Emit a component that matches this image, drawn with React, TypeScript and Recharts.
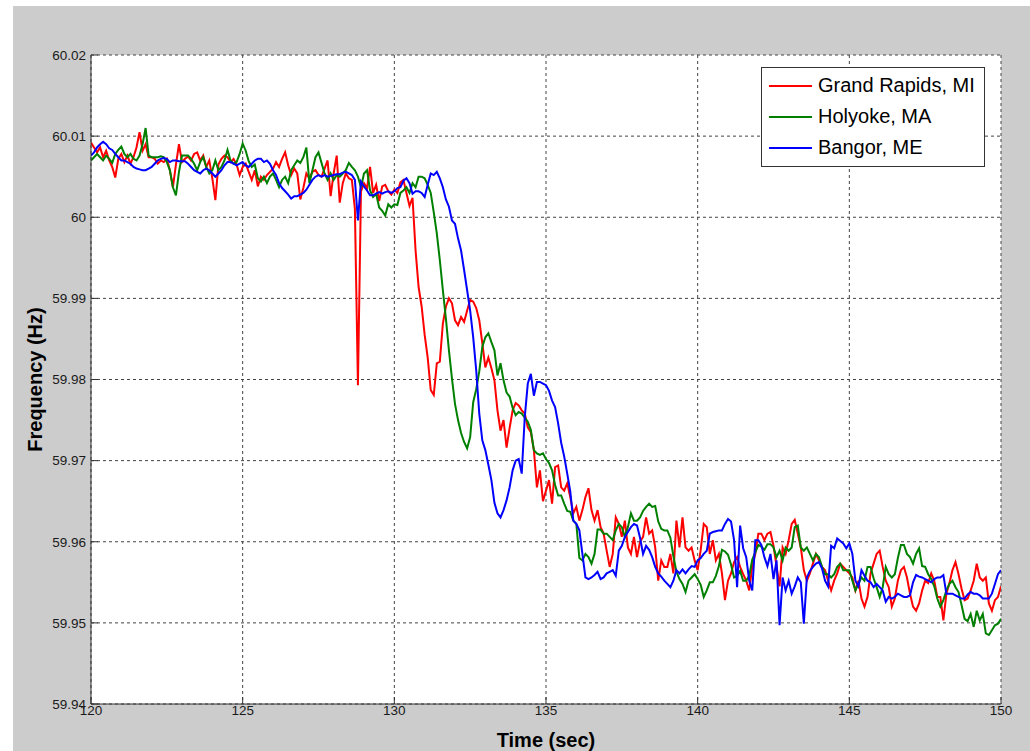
import React from 'react';
import { LineChart, Line, XAxis, YAxis, CartesianGrid, Legend } from 'recharts';

// Sampling grid of the record (seconds)
const START_TIME = 120;
const SAMPLE_STEP = 0.1;

// Frequency readings (Hz), one per 0.1 s from 120.0 s to 150.0 s
const grandRapids = [
  60.0092, 60.0086, 60.0080, 60.0086, 60.0074, 60.0082, 60.0070, 60.0062, 60.0049, 60.0072,
  60.0078, 60.0068, 60.0076, 60.0066, 60.0074, 60.0086, 60.0105, 60.0082, 60.0090, 60.0074,
  60.0074, 60.0072, 60.0066, 60.0070, 60.0068, 60.0072, 60.0058, 60.0037, 60.0065, 60.0090,
  60.0068, 60.0072, 60.0075, 60.0070, 60.0078, 60.0080, 60.0070, 60.0076, 60.0062, 60.0070,
  60.0048, 60.0021, 60.0065, 60.0072, 60.0076, 60.0074, 60.0068, 60.0072, 60.0065, 60.0052,
  60.0062, 60.0066, 60.0056, 60.0046, 60.0058, 60.0038, 60.0050, 60.0046, 60.0052, 60.0056,
  60.0060, 60.0068, 60.0062, 60.0072, 60.0080, 60.0064, 60.0052, 60.0060, 60.0054, 60.0022,
  60.0036, 60.0054, 60.0048, 60.0056, 60.0058, 60.0052, 60.0050, 60.0060, 60.0070, 60.0026,
  60.0054, 60.0076, 60.0018, 60.0042, 60.0054, 60.0048, 60.0046, 60.0010, 59.9793, 60.0032,
  60.0042, 60.0036, 60.0062, 60.0030, 60.0040, 60.0020, 60.0038, 60.0040, 60.0032, 60.0028,
  60.0034, 60.0030, 60.0043, 60.0046, 60.0030, 60.0014, 60.0024, 59.9959, 59.9914, 59.9890,
  59.9855, 59.9827, 59.9787, 59.9781, 59.9820, 59.9822, 59.9869, 59.9890, 59.9900, 59.9894,
  59.9873, 59.9867, 59.9877, 59.9871, 59.9885, 59.9898, 59.9896, 59.9888, 59.9873, 59.9845,
  59.9815, 59.9827, 59.9814, 59.9799, 59.9762, 59.9737, 59.9750, 59.9716, 59.9740, 59.9762,
  59.9771, 59.9768, 59.9762, 59.9758, 59.9741, 59.9735, 59.9713, 59.9667, 59.9688, 59.9650,
  59.9663, 59.9676, 59.9647, 59.9692, 59.9694, 59.9667, 59.9663, 59.9672, 59.9655, 59.9635,
  59.9643, 59.9626, 59.9639, 59.9655, 59.9666, 59.9639, 59.9626, 59.9639, 59.9618, 59.9610,
  59.9589, 59.9569, 59.9585, 59.9630, 59.9622, 59.9606, 59.9626, 59.9593, 59.9585, 59.9606,
  59.9581, 59.9600, 59.9606, 59.9630, 59.9610, 59.9614, 59.9593, 59.9552, 59.9577, 59.9569,
  59.9569, 59.9585, 59.9561, 59.9626, 59.9593, 59.9630, 59.9593, 59.9589, 59.9593, 59.9577,
  59.9565, 59.9590, 59.9622, 59.9618, 59.9585, 59.9602, 59.9577, 59.9585, 59.9561, 59.9528,
  59.9552, 59.9561, 59.9575, 59.9581, 59.9569, 59.9560, 59.9552, 59.9540, 59.9570, 59.9585,
  59.9610, 59.9610, 59.9602, 59.9610, 59.9612, 59.9595, 59.9570, 59.9545, 59.9593, 59.9585,
  59.9602, 59.9622, 59.9627, 59.9610, 59.9593, 59.9565, 59.9552, 59.9561, 59.9573, 59.9585,
  59.9577, 59.9569, 59.9565, 59.9552, 59.9540, 59.9552, 59.9561, 59.9573, 59.9569, 59.9565,
  59.9561, 59.9556, 59.9540, 59.9552, 59.9530, 59.9520, 59.9532, 59.9561, 59.9573, 59.9585,
  59.9589, 59.9569, 59.9552, 59.9544, 59.9520, 59.9530, 59.9552, 59.9565, 59.9569, 59.9556,
  59.9536, 59.9520, 59.9515, 59.9524, 59.9540, 59.9552, 59.9549, 59.9561, 59.9552, 59.9532,
  59.9532, 59.9503, 59.9536, 59.9549, 59.9565, 59.9575, 59.9560, 59.9542, 59.9528, 59.9530,
  59.9540, 59.9552, 59.9573, 59.9556, 59.9552, 59.9556, 59.9524, 59.9515, 59.9528, 59.9532,
  59.9545,
];

const holyoke = [
  60.0070, 60.0074, 60.0078, 60.0074, 60.0070, 60.0076, 60.0072, 60.0067, 60.0078, 60.0083,
  60.0087, 60.0078, 60.0074, 60.0078, 60.0072, 60.0070, 60.0076, 60.0090, 60.0110, 60.0076,
  60.0074, 60.0074, 60.0074, 60.0075, 60.0074, 60.0068, 60.0058, 60.0037, 60.0027, 60.0056,
  60.0076, 60.0076, 60.0076, 60.0072, 60.0066, 60.0058, 60.0068, 60.0074, 60.0062, 60.0054,
  60.0058, 60.0070, 60.0058, 60.0062, 60.0070, 60.0083, 60.0070, 60.0066, 60.0068, 60.0078,
  60.0091, 60.0082, 60.0069, 60.0062, 60.0065, 60.0048, 60.0044, 60.0050, 60.0042, 60.0050,
  60.0054, 60.0046, 60.0037, 60.0046, 60.0050, 60.0042, 60.0058, 60.0064, 60.0070, 60.0067,
  60.0074, 60.0086, 60.0042, 60.0058, 60.0074, 60.0080, 60.0067, 60.0054, 60.0046, 60.0054,
  60.0046, 60.0052, 60.0050, 60.0054, 60.0058, 60.0067, 60.0062, 60.0058, 60.0050, 60.0037,
  60.0054, 60.0058, 60.0033, 60.0025, 60.0029, 60.0012, 60.0008, 60.0002, 60.0016, 60.0012,
  60.0016, 60.0015, 60.0030, 60.0033, 60.0037, 60.0030, 60.0042, 60.0037, 60.0050, 60.0050,
  60.0048, 60.0040, 60.0030, 60.0006, 59.9980, 59.9947, 59.9910, 59.9875, 59.9836, 59.9801,
  59.9770, 59.9750, 59.9734, 59.9723, 59.9715, 59.9729, 59.9772, 59.9788, 59.9810, 59.9840,
  59.9852, 59.9857, 59.9846, 59.9836, 59.9805, 59.9820, 59.9799, 59.9784, 59.9779, 59.9765,
  59.9756, 59.9760, 59.9758, 59.9753, 59.9748, 59.9738, 59.9713, 59.9709, 59.9707, 59.9709,
  59.9702, 59.9697, 59.9688, 59.9670, 59.9657, 59.9657, 59.9647, 59.9638, 59.9637, 59.9626,
  59.9622, 59.9580, 59.9577, 59.9585, 59.9581, 59.9573, 59.9585, 59.9615, 59.9615, 59.9610,
  59.9610, 59.9606, 59.9602, 59.9614, 59.9622, 59.9618, 59.9606, 59.9618, 59.9635, 59.9626,
  59.9626, 59.9630, 59.9638, 59.9643, 59.9647, 59.9643, 59.9644, 59.9625, 59.9616, 59.9614,
  59.9614, 59.9605, 59.9582, 59.9563, 59.9554, 59.9548, 59.9538, 59.9552, 59.9556, 59.9560,
  59.9554, 59.9547, 59.9532, 59.9540, 59.9550, 59.9550, 59.9558, 59.9570, 59.9590, 59.9588,
  59.9584, 59.9572, 59.9556, 59.9558, 59.9564, 59.9552, 59.9552, 59.9558, 59.9578, 59.9587,
  59.9596, 59.9594, 59.9590, 59.9597, 59.9597, 59.9593, 59.9581, 59.9589, 59.9577, 59.9593,
  59.9589, 59.9593, 59.9618, 59.9620, 59.9593, 59.9589, 59.9593, 59.9585, 59.9577, 59.9585,
  59.9581, 59.9569, 59.9560, 59.9560, 59.9556, 59.9560, 59.9569, 59.9573, 59.9565, 59.9565,
  59.9565, 59.9552, 59.9540, 59.9548, 59.9556, 59.9552, 59.9569, 59.9569, 59.9555, 59.9544,
  59.9532, 59.9544, 59.9569, 59.9560, 59.9556, 59.9560, 59.9580, 59.9596, 59.9596, 59.9585,
  59.9581, 59.9573, 59.9585, 59.9592, 59.9570, 59.9569, 59.9560, 59.9554, 59.9545, 59.9530,
  59.9520, 59.9528, 59.9540, 59.9548, 59.9552, 59.9544, 59.9538, 59.9522, 59.9505, 59.9502,
  59.9511, 59.9495, 59.9515, 59.9503, 59.9511, 59.9487, 59.9485, 59.9491, 59.9497, 59.9499,
  59.9505,
];

const bangor = [
  60.0076, 60.0080, 60.0086, 60.0090, 60.0093, 60.0090, 60.0085, 60.0083, 60.0078, 60.0074,
  60.0070, 60.0070, 60.0068, 60.0066, 60.0062, 60.0060, 60.0059, 60.0058, 60.0058, 60.0060,
  60.0062, 60.0066, 60.0070, 60.0072, 60.0073, 60.0072, 60.0068, 60.0070, 60.0070, 60.0069,
  60.0069, 60.0069, 60.0066, 60.0062, 60.0058, 60.0056, 60.0054, 60.0058, 60.0060, 60.0058,
  60.0054, 60.0050, 60.0054, 60.0058, 60.0064, 60.0068, 60.0068, 60.0066, 60.0064, 60.0066,
  60.0068, 60.0064, 60.0062, 60.0066, 60.0070, 60.0072, 60.0072, 60.0068, 60.0070, 60.0066,
  60.0058, 60.0052, 60.0042, 60.0036, 60.0032, 60.0028, 60.0023, 60.0026, 60.0026, 60.0028,
  60.0030, 60.0034, 60.0040, 60.0046, 60.0050, 60.0052, 60.0050, 60.0052, 60.0050, 60.0051,
  60.0052, 60.0053, 60.0053, 60.0055, 60.0056, 60.0054, 60.0052, 60.0046, 59.9996, 60.0044,
  60.0038, 60.0033, 60.0027, 60.0027, 60.0029, 60.0031, 60.0029, 60.0031, 60.0032, 60.0030,
  60.0032, 60.0036, 60.0037, 60.0045, 60.0048, 60.0042, 60.0029, 60.0032, 60.0032, 60.0030,
  60.0025, 60.0040, 60.0054, 60.0052, 60.0056, 60.0048, 60.0037, 60.0022, 60.0013, 59.9996,
  59.9992, 59.9974, 59.9959, 59.9935, 59.9910, 59.9885, 59.9852, 59.9811, 59.9758, 59.9725,
  59.9713, 59.9695, 59.9676, 59.9648, 59.9635, 59.9630, 59.9639, 59.9651, 59.9667, 59.9688,
  59.9700, 59.9702, 59.9684, 59.9754, 59.9795, 59.9807, 59.9780, 59.9797, 59.9797, 59.9795,
  59.9793, 59.9786, 59.9774, 59.9766, 59.9746, 59.9722, 59.9705, 59.9684, 59.9662, 59.9626,
  59.9622, 59.9614, 59.9585, 59.9556, 59.9554, 59.9556, 59.9559, 59.9563, 59.9554, 59.9556,
  59.9561, 59.9563, 59.9565, 59.9558, 59.9589, 59.9595, 59.9606, 59.9612, 59.9618, 59.9622,
  59.9620, 59.9605, 59.9585, 59.9595, 59.9590, 59.9581, 59.9569, 59.9561, 59.9557, 59.9552,
  59.9548, 59.9544, 59.9552, 59.9565, 59.9561, 59.9566, 59.9561, 59.9566, 59.9570, 59.9569,
  59.9577, 59.9580, 59.9585, 59.9589, 59.9610, 59.9612, 59.9613, 59.9614, 59.9614, 59.9622,
  59.9628, 59.9625, 59.9602, 59.9544, 59.9620, 59.9592, 59.9581, 59.9552, 59.9540, 59.9602,
  59.9602, 59.9596, 59.9581, 59.9570, 59.9585, 59.9554, 59.9577, 59.9497, 59.9556, 59.9540,
  59.9552, 59.9536, 59.9545, 59.9556, 59.9550, 59.9499, 59.9556, 59.9564, 59.9569, 59.9573,
  59.9575, 59.9567, 59.9552, 59.9545, 59.9595, 59.9592, 59.9604, 59.9601, 59.9598, 59.9592,
  59.9598, 59.9585, 59.9552, 59.9545, 59.9565, 59.9558, 59.9552, 59.9550, 59.9544, 59.9548,
  59.9544, 59.9540, 59.9526, 59.9532, 59.9530, 59.9532, 59.9536, 59.9534, 59.9532, 59.9532,
  59.9534, 59.9550, 59.9559, 59.9557, 59.9556, 59.9554, 59.9552, 59.9550, 59.9554, 59.9556,
  59.9556, 59.9559, 59.9536, 59.9536, 59.9536, 59.9534, 59.9532, 59.9530, 59.9530, 59.9535,
  59.9538, 59.9536, 59.9536, 59.9534, 59.9530, 59.9530, 59.9530, 59.9536, 59.9548, 59.9560,
  59.9565,
];

const xTicks = [120, 125, 130, 135, 140, 145, 150];
const xTickLabels = ['120', '125', '130', '135', '140', '145', '150'];
const yTicks = [59.94, 59.95, 59.96, 59.97, 59.98, 59.99, 60, 60.01, 60.02];
const yTickLabels = ['59.94', '59.95', '59.96', '59.97', '59.98', '59.99', '60', '60.01', '60.02'];

const seriesKeys = ['grandRapids', 'holyoke', 'bangor'];
const seriesNames = ['Grand Rapids, MI', 'Holyoke, MA', 'Bangor, ME'];
const seriesColors = ['#ff0000', '#008000', '#0000ff'];

const titleText = 'Detail of Event Demonstrating an Oscillation';
const xLabelText = 'Time (sec)';
const yLabelText = 'Frequency (Hz)';

const rows = grandRapids.map((v, i) => ({
  t: Math.round((START_TIME + i * SAMPLE_STEP) * 10) / 10,
  grandRapids: v,
  holyoke: holyoke[i],
  bangor: bangor[i],
}));

const FONT = "'Liberation Sans', Arial, Helvetica, sans-serif";
const AXIS_COLOR = '#333333';
const TICK_LEN = 7;

function BottomTick(props: any) {
  const { x, y, payload } = props;
  const axisY = y - 1;
  const i = xTicks.indexOf(payload.value);
  return (
    <g>
      <line x1={x} y1={axisY} x2={x} y2={axisY - TICK_LEN} stroke={AXIS_COLOR} />
      <text x={x} y={axisY + 11} textAnchor="middle" fontFamily={FONT} fontSize={13.5} fill="#1a1a1a">
        {xTickLabels[i]}
      </text>
    </g>
  );
}

function LeftTick(props: any) {
  const { x, y, payload } = props;
  const axisX = x + 5;
  const i = yTicks.indexOf(payload.value);
  return (
    <g>
      <line x1={axisX} y1={y} x2={axisX + TICK_LEN} y2={y} stroke={AXIS_COLOR} />
      <text x={x} y={y} dy="0.36em" textAnchor="end" fontFamily={FONT} fontSize={13.5} fill="#1a1a1a">
        {yTickLabels[i]}
      </text>
    </g>
  );
}

function TopTick(props: any) {
  const { x, y } = props;
  return <line x1={x} y1={y} x2={x} y2={y + TICK_LEN} stroke={AXIS_COLOR} />;
}

function RightTick(props: any) {
  const { x, y } = props;
  return <line x1={x} y1={y} x2={x - TICK_LEN} y2={y} stroke={AXIS_COLOR} />;
}

function TitleLabel(props: any) {
  const vb = props.viewBox || { x: 91, y: 55, width: 910 };
  return (
    <text x={vb.x + vb.width / 2} y={37} textAnchor="middle" fontFamily={FONT} fontWeight="bold" fontSize={23} fill="#000">
      {titleText}
    </text>
  );
}

function XLabel(props: any) {
  const vb = props.viewBox || { x: 91, y: 704, width: 910 };
  return (
    <text x={vb.x + vb.width / 2} y={vb.y + 43} textAnchor="middle" fontFamily={FONT} fontWeight="bold" fontSize={20} fill="#000">
      {xLabelText}
    </text>
  );
}

function YLabel(props: any) {
  const vb = props.viewBox || { x: 31, y: 55, width: 60, height: 649 };
  const cx = 42;
  const cy = vb.y + vb.height / 2;
  return (
    <text
      x={cx}
      y={cy}
      transform={`rotate(-90 ${cx} ${cy})`}
      textAnchor="middle"
      fontFamily={FONT}
      fontWeight="bold"
      fontSize={20}
      fill="#000"
    >
      {yLabelText}
    </text>
  );
}

function LegendBox() {
  return (
    <div
      style={{
        boxSizing: 'border-box',
        width: 224,
        height: 100,
        background: '#fff',
        border: '1px solid #333',
        paddingTop: 2,
        fontFamily: FONT,
      }}
    >
      {seriesNames.map((name, i) => (
        <div key={name} style={{ display: 'flex', alignItems: 'center', height: 31 }}>
          <div style={{ width: 43, height: 2, background: seriesColors[i], marginLeft: 7, marginRight: 6 }} />
          <span style={{ fontSize: 20, color: '#000', lineHeight: '31px', whiteSpace: 'nowrap' }}>{name}</span>
        </div>
      ))}
    </div>
  );
}

export default function App() {
  return (
    <div style={{ position: 'absolute', left: 0, top: 0, width: 1030, height: 751, background: '#fff', overflow: 'hidden' }}>
      <div style={{ position: 'absolute', left: 13, top: 6, width: 1017, height: 745, background: '#cccccc' }} />
      <div style={{ position: 'absolute', left: 0, top: 0 }}>
        <LineChart width={1030} height={751} data={rows} margin={{ top: 55, right: 29, bottom: 17, left: 31 }}>
          <CartesianGrid stroke="#444" strokeDasharray="3 3" fill="#ffffff" fillOpacity={1} />
          <XAxis
            dataKey="t"
            type="number"
            domain={[120, 150]}
            ticks={xTicks}
            interval={0}
            allowDataOverflow
            height={30}
            tickSize={0}
            tickMargin={1}
            tickLine={false}
            axisLine={{ stroke: AXIS_COLOR }}
            tick={<BottomTick />}
            label={{ content: <XLabel /> }}
          />
          <XAxis
            xAxisId="top"
            orientation="top"
            type="number"
            domain={[120, 150]}
            ticks={xTicks}
            interval={0}
            allowDataOverflow
            height={0}
            tickSize={0}
            tickMargin={0}
            tickLine={false}
            axisLine={{ stroke: AXIS_COLOR }}
            tick={<TopTick />}
            label={{ content: <TitleLabel /> }}
          />
          <YAxis
            type="number"
            domain={[59.94, 60.02]}
            ticks={yTicks}
            interval={0}
            allowDataOverflow
            width={60}
            tickSize={0}
            tickMargin={5}
            tickLine={false}
            axisLine={{ stroke: AXIS_COLOR }}
            tick={<LeftTick />}
            label={{ content: <YLabel /> }}
          />
          <YAxis
            yAxisId="right"
            orientation="right"
            type="number"
            domain={[59.94, 60.02]}
            ticks={yTicks}
            interval={0}
            allowDataOverflow
            width={0}
            tickSize={0}
            tickMargin={0}
            tickLine={false}
            axisLine={{ stroke: AXIS_COLOR }}
            tick={<RightTick />}
          />
          {seriesKeys.map((k, i) => (
            <Line
              key={k}
              dataKey={k}
              name={seriesNames[i]}
              type="linear"
              stroke={seriesColors[i]}
              strokeWidth={2}
              dot={false}
              activeDot={false}
              isAnimationActive={false}
            />
          ))}
          <Legend
            layout="vertical"
            align="center"
            verticalAlign="middle"
            wrapperStyle={{ left: 761, top: 67, width: 224, height: 100 }}
            content={<LegendBox />}
          />
        </LineChart>
      </div>
    </div>
  );
}
